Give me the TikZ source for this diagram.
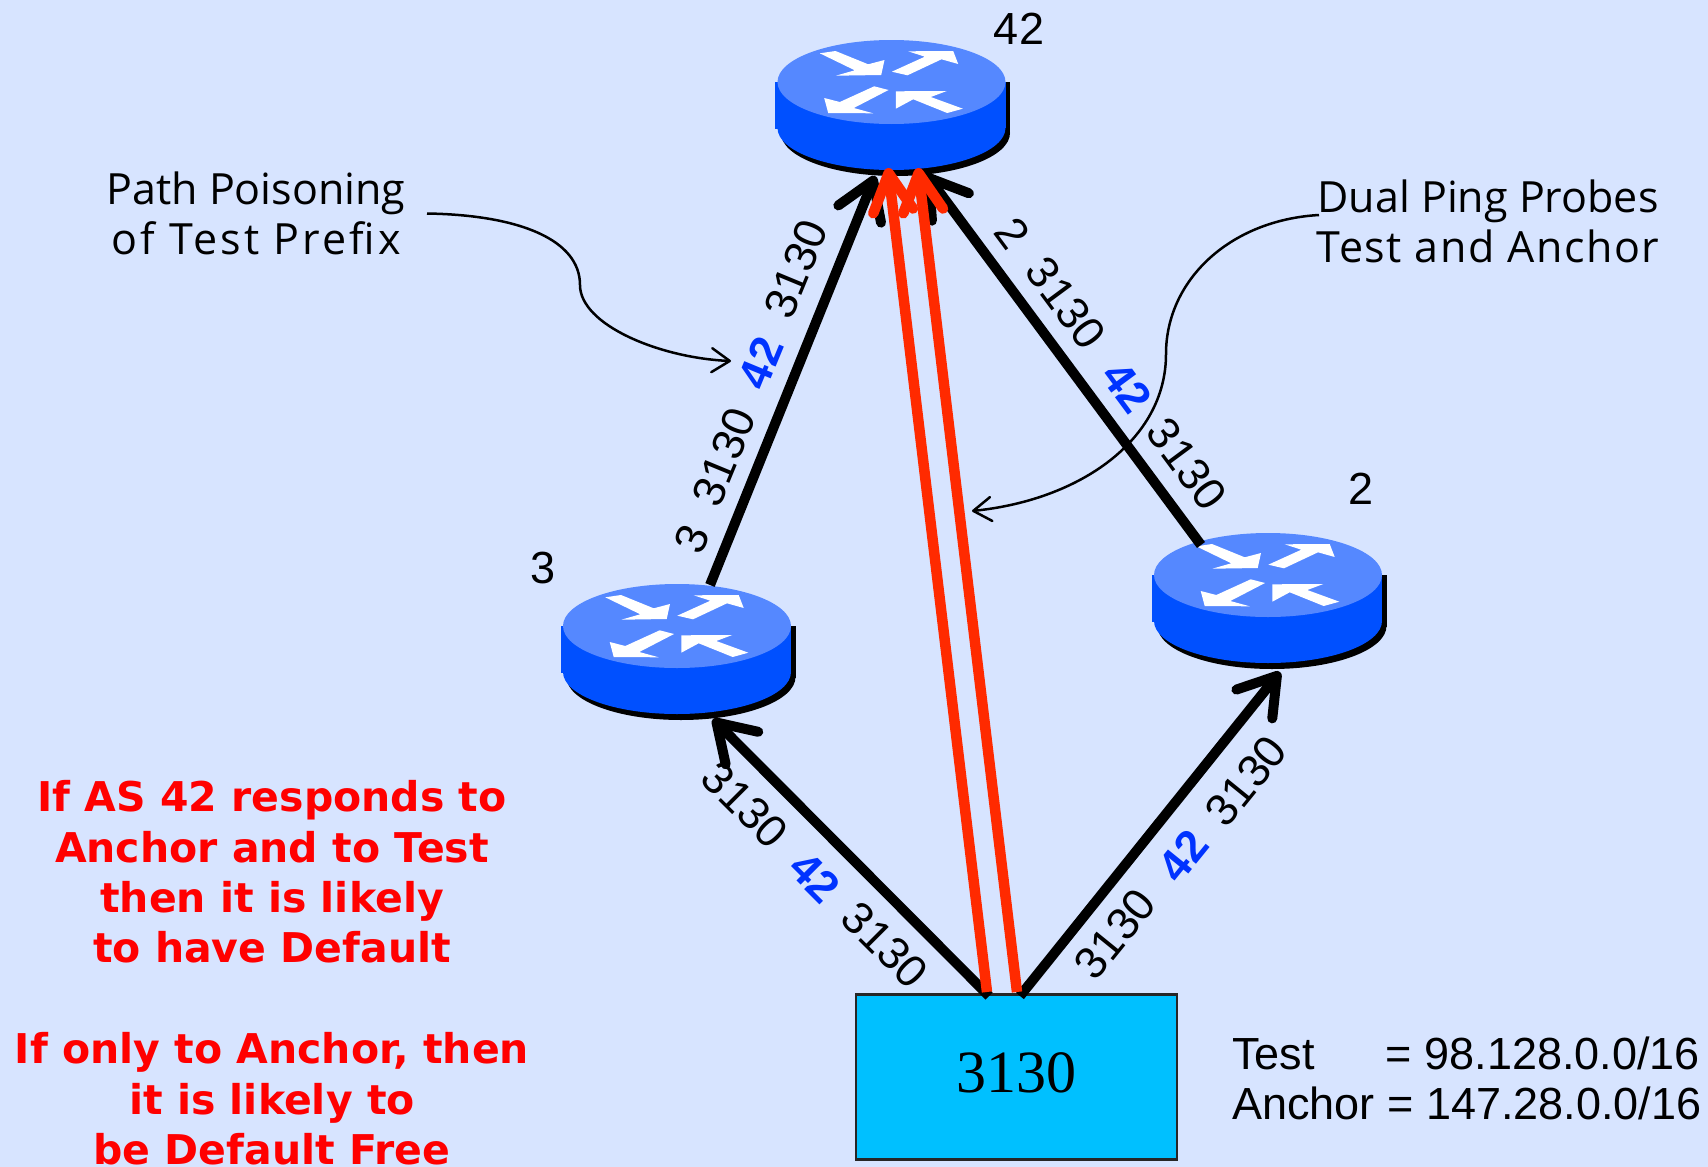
\documentclass[tikz,border=0pt]{standalone}
\usepackage{fontspec}
\setmainfont{Liberation Sans}
\newfontfamily\hand{Open Sans}
\newfontfamily\handbold{DejaVu Sans}[BoldFont={DejaVu Sans Bold}]
\newfontfamily\serifface{Liberation Serif}
\usetikzlibrary{arrows.meta,shapes.geometric}
\definecolor{bgblue}{HTML}{D7E4FF}
\definecolor{rtop}{HTML}{5588FF}
\definecolor{rside}{HTML}{0050FF}
\definecolor{probe}{HTML}{FF2A00}
\definecolor{pathblue}{HTML}{0033FF}
\definecolor{boxblue}{HTML}{00C0FF}
\tikzset{
  router/.pic={
    \fill[black] (-111,0) rectangle (118.5,52);
    \fill[black] (4,51) ellipse [x radius=114.5,y radius=43];
    \fill[rside] (-116.5,0) rectangle (-114,47);
    \fill[rside] (-114,0) rectangle (114,46);
    \fill[rside] (0,46) ellipse [x radius=114,y radius=42];
    \fill[rtop] (0,0) ellipse [x radius=114,y radius=42];
    \fill[white] (-71.7,-28.7) -- (-56,-31) -- (-23.3,-17.7) -- (-7,-22) -- (-10.3,-7) -- (-55.7,-6.3) -- (-36.7,-11.7) -- cycle;
    \fill[white] (.3,-10.3) -- (33.3,-25.3) -- (16.7,-30.7) -- (61.7,-31) -- (66.7,-18) -- (50,-22.7) -- (16,-6.7) -- cycle;
    \fill[white] (-3,8) -- (-17.3,4.3) -- (-51.7,20) -- (-67.3,16) -- (-63.3,31) -- (-18.3,31.3) -- (-37.7,26) -- cycle;
    \fill[white] (4.3,9.3) -- (55.3,9) -- (39.3,15) -- (71.3,26.7) -- (55.7,31) -- (21.7,17.3) -- (4.3,26.7) -- cycle;
  },
  routernode/.style={ellipse,minimum width=228pt,minimum height=84pt,inner sep=0pt},
  aslabel/.style={font=\fontsize{45}{50}\selectfont,text=black,inner sep=0pt},
  poison/.style={font=\fontsize{45}{50}\selectfont\bfseries,text=pathblue,inner sep=0pt},
  link/.style={draw=black,line width=10pt,-{Straight Barb[length=36pt,width=46pt,round]}},
  probeline/.style={draw=probe,line width=10.5pt,-{Straight Barb[length=38pt,width=40pt,round]}},
  note/.style={draw=black,line width=2.5pt,-{Straight Barb[length=18pt,width=24pt,round]}},
  handtext/.style={font=\fontsize{43}{50}\selectfont\hand,align=center,inner sep=0pt},
  redtext/.style={font=\fontsize{41}{50.3}\selectfont\handbold\bfseries,text=red,align=center,inner sep=0pt},
}
\begin{document}
\begin{tikzpicture}[x=1pt,y=-1pt]
\path[use as bounding box,fill=bgblue] (0,0) rectangle (1708,1167);

% routers
\node[routernode] (r42) at (891.5,82) {};
\node[routernode] (r3) at (677,626) {};
\node[routernode] (r2) at (1268,575) {};
\pic at (r42) {router};
\pic at (r3) {router};
\pic at (r2) {router};

% source box
\node[draw=black!85,line width=2.5pt,fill=boxblue,minimum width=321pt,minimum height=165pt,inner sep=0pt,
      font=\fontsize{60}{62}\selectfont\serifface] (src) at (1016.5,1077) {\raisebox{8pt}{3130}};

% connector ends
\coordinate (in42a) at (875,176);
\coordinate (in42b) at (926,174);
\coordinate (in42c) at (888,168);
\coordinate (in42d) at (918,168);
\coordinate (in3) at (713,719);
\coordinate (in2) at (1280,672);
\coordinate (out3) at (710,585);
\coordinate (out2) at (1201,545);
\coordinate (s3) at (989,996);
\coordinate (s2) at (1020,996);
\coordinate (p1) at (987,992);
\coordinate (p2) at (1017,992);

\draw[link] (out3) -- (in42a);
\draw[link] (out2) -- (in42b);
\draw[link] (s3) -- (in3);
\draw[link] (s2) -- (in2);
\draw[probeline] (p1) -- (in42c);
\draw[probeline] (p2) -- (in42d);

% router labels
\node[aslabel] (l42) at (1019,29) {42};
\node[aslabel] (l2) at (1361,489) {2};
\node[aslabel] (l3) at (543,568) {3};

% labels along links
\node[aslabel,rotate=67.6] (a1) at (692,539) {3};
\node[aslabel,rotate=67.6] (a2) at (724,457) {3130};
\node[poison,rotate=67.6] (a3) at (761,363) {42};
\node[aslabel,rotate=67.6] (a4) at (796,269) {3130};
\node[aslabel,rotate=-53.5] (b1) at (1013,233) {2};
\node[aslabel,rotate=-53.5] (b2) at (1066,303) {3130};
\node[poison,rotate=-53.5] (b3) at (1127,387) {42};
\node[aslabel,rotate=-53.5] (b4) at (1187,464) {3130};
\node[aslabel,rotate=-45] (c1) at (745,805) {3130};
\node[poison,rotate=-45] (c2) at (815,877) {42};
\node[aslabel,rotate=-45] (c3) at (885,945) {3130};
\node[aslabel,rotate=51] (d1) at (1115,934) {3130};
\node[poison,rotate=51] (d2) at (1183,856) {42};
\node[aslabel,rotate=51] (d3) at (1246,781) {3130};

% prefixes
\node[aslabel,anchor=base west] (tst) at (1232,1069) {Test\hspace{71pt}= 98.128.0.0/16};
\node[aslabel,anchor=base west] (anc) at (1232,1119) {Anchor = 147.28.0.0/16};

% annotations
\node[handtext] (pp) at (256,213) {Path Poisoning\\\addfontfeature{LetterSpace=7.4}of Test Prefix};
\node[handtext] (dp) at (1488,221) {Dual Ping Probes\\\addfontfeature{LetterSpace=3.7}Test and Anchor};
\coordinate (ppend) at (731,361);
\coordinate (dpend) at (972,511);
\coordinate (ppstart) at (427,213.5);
\coordinate (dpstart) at (1319,215);
\draw[note] (ppstart) .. controls (520,215) and (580,240) .. (580,285) .. controls (580,325) and (660,358) .. (ppend);
\draw[note] (dpstart) .. controls (1230,220) and (1166,280) .. (1166,354) .. controls (1166,440) and (1080,500) .. (dpend);

% red notes
\node[redtext] (ra) at (272,872) {If AS 42 responds to\\Anchor and to Test\\then it is likely\\to have Default};
\node[redtext] (rb) at (272,1099) {If only to Anchor, then\\it is likely to\\be Default Free};
\end{tikzpicture}
\end{document}
